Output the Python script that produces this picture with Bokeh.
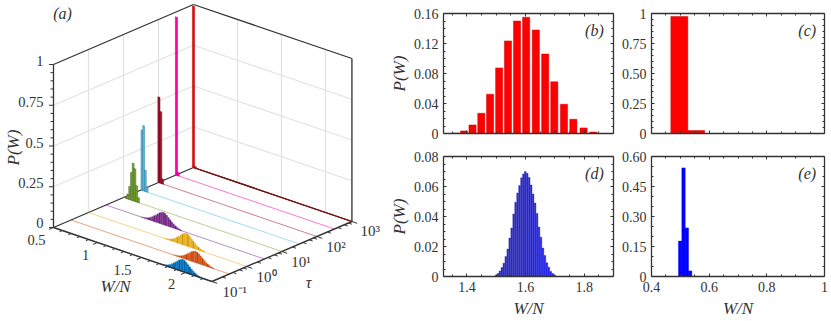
from bokeh.embed import file_html
from bokeh.resources import INLINE
from bokeh.plotting import figure
from bokeh.layouts import row, column
from bokeh.models import LinearAxis, FixedTicker, Range1d
from bokeh.core.properties import value

FONT = "Liberation Serif"
INK = "#333333"

# ---------- panel (a) data: W/N bin centres and P(W) for each tau ----------
tau_exp = [-1, -0.5, 0, 0.5, 1, 1.5, 2, 2.5, 3]
colors = ["#0072BD", "#D95319", "#EDB120", "#7E2F8E", "#77AC30", "#4DBEEE", "#A2142F", "#FF00AA", "#FF0000"]
edges = ["#00406b", "#7a2e0d", "#80600f", "#3f1747", "#3f5c19", "#2a7a9c", "#5a0b1a", "#b00075", "#b00000"]
W_s0 = [1.73, 1.75, 1.77, 1.79, 1.81, 1.83, 1.85, 1.87, 1.89, 1.91, 1.93, 1.95, 1.97,
        1.99, 2.01, 2.03, 2.05, 2.07, 2.09, 2.11, 2.13, 2.15, 2.17]
P_s0 = [.001, .002, .005, .008, .012, .018, .026, .035, .044, .054, .064, .071, .075,
        .072, .064, .054, .043, .033, .024, .017, .011, .007, .004]
W_s1 = [1.675, 1.695, 1.715, 1.735, 1.755, 1.775, 1.795, 1.815, 1.835, 1.855, 1.875, 1.895, 1.915,
        1.935, 1.955, 1.975, 1.995, 2.015, 2.035, 2.055, 2.075, 2.095, 2.115]
P_s1 = [.001, .002, .004, .007, .011, .017, .024, .032, .041, .050, .059, .066, .069,
        .066, .059, .050, .040, .030, .022, .015, .010, .006, .003]
W_s2 = [1.37, 1.39, 1.41, 1.43, 1.45, 1.47, 1.49, 1.51, 1.53, 1.55, 1.57, 1.59, 1.61,
        1.63, 1.65, 1.67, 1.69, 1.71, 1.73, 1.75, 1.77, 1.79, 1.81]
P_s2 = [.001, .002, .005, .008, .012, .018, .026, .035, .045, .055, .065, .072, .076,
        .073, .065, .055, .044, .033, .024, .017, .011, .007, .004]
W_s3 = [.91, .93, .95, .97, .99, 1.01, 1.03, 1.05, 1.07, 1.09, 1.11, 1.13, 1.15,
        1.17, 1.19, 1.21, 1.23, 1.25, 1.27, 1.29, 1.31, 1.33, 1.35]
P_s3 = [.001, .002, .005, .008, .012, .018, .026, .035, .044, .054, .064, .071, .075,
        .072, .064, .054, .043, .033, .024, .017, .011, .007, .004]
W_s4 = [.53, .55, .57, .59, .61, .63, .65, .67]
P_s4 = [.01, .03, .08, .17, .23, .20, .10, .03]
W_s5 = [.51, .53, .55, .57]
P_s5 = [.37, .40, .13, .03]
W_s6 = [.505, .525, .545]
P_s6 = [.525, .44, .03]
W_s7 = [.505, .525]
P_s7 = [.97, .02]
W_s8 = [.50, .52]
P_s8 = [.99, .01]
series_W = [W_s0, W_s1, W_s2, W_s3, W_s4, W_s5, W_s6, W_s7, W_s8]
series_P = [P_s0, P_s1, P_s2, P_s3, P_s4, P_s5, P_s6, P_s7, P_s8]
series_hw = [.01, .01, .01, .01, .01, .01, .012, .012, .012]

z_ticks = [0, .25, .5, .75, 1]
z_labels = ["0", "0.25", "0.5", "0.75", "1"]
z_minor = [.05, .10, .15, .20, .30, .35, .40, .45, .55, .60, .65, .70, .80, .85, .90, .95]
W_ticks = [.5, 1, 1.5, 2]
W_labels = ["0.5", "1", "1.5", "2"]
W_minor = [.6, .7, .8, .9, 1.1, 1.2, 1.3, 1.4, 1.6, 1.7, 1.8, 1.9, 2.1, 2.2]
tau_ticks = [-1, 0, 1, 2, 3]
tau_labels = ["10⁻¹", "10⁰", "10¹", "10²", "10³"]
tau_minor_mult = [.30, .60, .78, .90]
W_MIN, W_MAX = 0.5, 2.3


def pr(w, lt, z=0.0):
    """orthographic projection of (W/N, log10 tau, P) on the page"""
    return (53 + (w - W_MIN) * 88 + (lt + 1) * 35,
            227 + (w - W_MIN) * 30 - (lt + 1) * 15 - z * 163)


def seg(p, a, b, **kw):
    x0, y0 = pr(*a)
    x1, y1 = pr(*b)
    p.line([x0, x1], [y0, y1], **kw)


LW = 386
a = figure(width=LW, height=321, x_range=Range1d(0, LW), y_range=Range1d(321, 0),
           output_backend="svg", toolbar_location=None, min_border=0,
           outline_line_color=None)
a.axis.visible = False
a.grid.visible = False
a.xaxis.visible = False
a.yaxis.visible = False

GRID = dict(line_color="#e2e2e2", line_width=1.2)
for z in z_ticks[1:4]:
    seg(a, (W_MIN, -1, z), (W_MIN, 3, z), **GRID)
    seg(a, (W_MIN, 3, z), (W_MAX, 3, z), **GRID)
for lt in tau_ticks[1:4]:
    seg(a, (W_MIN, lt, 0), (W_MIN, lt, 1), **GRID)
for w in W_ticks[1:]:
    seg(a, (w, 3, 0), (w, 3, 1), **GRID)

seg(a, (W_MIN, -1, 0), (W_MIN, 3, 0), line_color=INK, line_width=1.3)
seg(a, (W_MIN, 3, 0), (W_MAX, 3, 0), line_color=INK, line_width=1.3)

for i in range(len(tau_exp) - 1, -1, -1):
    lt = tau_exp[i]
    seg(a, (W_MIN, lt, 0), (W_MAX, lt, 0), line_color=colors[i], line_width=.9, line_alpha=.6)
    xs, ys = [], []
    for w, v in zip(series_W[i], series_P[i]):
        h = series_hw[i]
        c = [pr(w - h, lt), pr(w - h, lt, v), pr(w + h, lt, v), pr(w + h, lt)]
        xs.append([q[0] for q in c])
        ys.append([q[1] for q in c])
    narrow = len(series_W[i]) <= 10
    a.patches(xs, ys, fill_color=colors[i], line_color=edges[i] if narrow else colors[i],
              line_width=.5 if narrow else .3)
    # thin dark bar edges, on every third bin as they alias in the reference
    if not narrow:
        for w, v in list(zip(series_W[i], series_P[i]))[1::3]:
            x0, y0 = pr(w, lt)
            x1, y1 = pr(w, lt, v)
            a.line([x0, x1], [y0, y1], line_color=edges[i], line_width=.6, line_alpha=.8)

seg(a, (W_MIN, 3, 0), (W_MAX, 3, 0), line_color="#7a1010", line_width=1.3)
seg(a, (W_MIN, -1, 1), (W_MIN, 3, 1), line_color=INK, line_width=1.3)
seg(a, (W_MIN, 3, 1), (W_MAX, 3, 1), line_color=INK, line_width=1.3)
seg(a, (W_MIN, -1, 0), (W_MIN, -1, 1), line_color=INK, line_width=1.3)
seg(a, (W_MAX, 3, 0), (W_MAX, 3, 1), line_color="#555555", line_width=1.6)
seg(a, (W_MIN, -1, 0), (W_MAX, -1, 0), line_color=INK, line_width=1.4)
seg(a, (W_MAX, -1, 0), (W_MAX, 3, 0), line_color=INK, line_width=1.4)

for z, n in [(t, 4.5) for t in z_ticks] + [(t, 3) for t in z_minor]:
    x, y = pr(W_MIN, -1, z)
    a.line([x - n, x], [y, y], line_color=INK, line_width=1)
for w, n in [(t, 1.3) for t in W_ticks] + [(t, .8) for t in W_minor]:
    seg(a, (w, -1, 0), (w, -1 - n * .1, 0), line_color=INK, line_width=1)
tau_minor = [t + m for t in tau_ticks[:-1] for m in tau_minor_mult]
for lt, n in [(t, .06) for t in tau_ticks] + [(t, .04) for t in tau_minor]:
    seg(a, (W_MAX, lt, 0), (W_MAX + n, lt, 0), line_color=INK, line_width=1)

TXT = dict(text_font=value(FONT), text_color=INK, text_baseline="middle")
a.text([43] * 5, [222.7, 182.3, 142.7, 101.7, 60], text=z_labels, text_align="right",
       text_font_size="14.5px", **TXT)
a.text([36, 85, 122, 171], [239, 254, 269, 283], text=W_labels, text_align="center",
       text_font_size="14.5px", **TXT)
a.text([222, 256, 290.7, 325.7, 360], [291, 276.7, 261, 246, 230.7], text=tau_labels,
       text_align="left", text_font_size="15px", **TXT)
a.text([115], [286], text=["W/N"], text_align="center", text_font_size="17px", text_font_style="italic", **TXT)
a.text([308], [282], text=["τ"], text_align="center", text_font_size="16px", text_font_style="italic", **TXT)
a.text([62], [13], text=["(a)"], text_align="center", text_font_size="16px", text_font_style="italic", **TXT)
a.text([13], [147], text=["P(W)"], text_align="center", angle=1.5708, text_font_size="17px",
       text_font_style="italic", **TXT)

# ---------- panels (b)-(e) data ----------
b_W = [1.361, 1.390, 1.419, 1.449, 1.479, 1.510, 1.540, 1.571, 1.602, 1.635, 1.667, 1.698, 1.731, 1.763, 1.798, 1.831]
b_P = [.0005, .0035, .0115, .027, .0525, .0875, .1235, .150, .155, .138, .106, .069, .039, .019, .0075, .002]
c_W = [.4965, .555]
c_P = [.975, .025]
d_W = [1.499, 1.5057, 1.5124, 1.5191, 1.5258, 1.5325, 1.5392, 1.5459, 1.5526, 1.5593, 1.566, 1.5727, 1.5794,
       1.5861, 1.5928, 1.599, 1.6057, 1.6124, 1.6191, 1.6258, 1.6325, 1.6392, 1.6459, 1.6526, 1.6593, 1.666,
       1.6727, 1.6794, 1.6861, 1.6928, 1.6995]
d_P = [.0009, .0020, .0036, .0060, .0089, .0134, .0183, .0256, .0323, .0417, .0495, .0557, .0606, .0658, .0684,
       .0700, .0688, .0660, .0610, .0550, .0490, .0420, .0330, .0262, .0190, .0140, .0092, .0062, .0034, .0020, .0009]
e_W = [.4995, .511, .5225, .534]
e_P = [.177, .543, .243, .028]

bd_xticks = [1.4, 1.6, 1.8]
bd_xminor = [1.35, 1.45, 1.5, 1.55, 1.65, 1.7, 1.75, 1.85]
ce_xticks = [.4, .6, .8, 1]
ce_xminor = [.45, .5, .55, .65, .7, .75, .85, .9, .95]
b_yticks = [0, .04, .08, .12, .16]
c_yticks = [0, .25, .5, .75, 1]
d_yticks = [0, .02, .04, .06, .08]
e_yticks = [0, .15, .30, .45, .60]
c_ylabels = ["0", "0.25", "0.50", "0.75", "1"]
b_ylabels = ["0", "0.04", "0.08", "0.12", "0.16"]
d_ylabels = ["0", "0.02", "0.04", "0.06", "0.08"]
e_ylabels = ["0", "0.15", "0.30", "0.45", "0.60"]
ce_xlabels = ["0.4", "0.6", "0.8", "1"]


def sub_minor(ticks, n):
    out = []
    for t0, t1 in zip(ticks[:-1], ticks[1:]):
        out += [t0 + (t1 - t0) * k / n for k in range(1, n)]
    return out


def panel(W, P, width, color, edge, lw, xr, yr, xticks, xminor, yticks, ylabels, yn, letter, lx,
          w, h, bl, br, bt, bb, xlabels=None, show_x=False, show_ylab=False):
    f = figure(width=w, height=h, x_range=Range1d(*xr), y_range=Range1d(*yr),
               output_backend="svg", toolbar_location=None,
               min_border_left=bl, min_border_right=br, min_border_top=bt, min_border_bottom=bb,
               x_axis_location=None, y_axis_location=None, outline_line_color=None)
    f.grid.visible = False
    f.vbar(x=W, top=P, width=width, fill_color=color, line_color=edge, line_width=lw)
    xt = FixedTicker(ticks=xticks, minor_ticks=xminor)
    yt = FixedTicker(ticks=yticks, minor_ticks=sub_minor(yticks, yn))
    for place, ticker, main in [("below", xt, True), ("above", xt, False), ("left", yt, True), ("right", yt, False)]:
        ax = LinearAxis(ticker=ticker, axis_line_color=INK, axis_line_width=1.3,
                        major_tick_line_color=INK, minor_tick_line_color=INK,
                        major_tick_in=3, major_tick_out=0, minor_tick_in=2, minor_tick_out=0,
                        major_label_standoff=5, major_label_text_font=FONT,
                        major_label_text_font_size="14px", major_label_text_color=INK)
        if place in ("left",):
            ax.major_label_overrides = dict(zip(yticks, ylabels))
            if show_ylab:
                ax.axis_label = "P(W)"
                ax.axis_label_text_font = FONT
                ax.axis_label_text_font_style = "italic"
                ax.axis_label_text_font_size = "17px"
                ax.axis_label_text_color = INK
                ax.axis_label_standoff = 2
        elif place == "below" and show_x:
            if xlabels:
                ax.major_label_overrides = dict(zip(xticks, xlabels))
            ax.axis_label = "W/N"
            ax.axis_label_text_font = FONT
            ax.axis_label_text_font_style = "italic"
            ax.axis_label_text_font_size = "17px"
            ax.axis_label_text_color = INK
            ax.axis_label_standoff = 4
        else:
            ax.major_label_text_font_size = "0px"
            ax.major_label_text_color = None
            ax.major_label_standoff = 0
        f.add_layout(ax, place)
    f.text([lx], [yr[1] * .86], text=[letter], text_align="center", text_baseline="middle",
           text_font=value(FONT), text_font_size="16px", text_font_style="italic", text_color=INK)
    return f


BW = 617 - LW
BL = 439 - LW
b = panel(b_W, b_P, .0245, "#ff0000", "#c00000", .45, (1.32, 1.9), (0, .16), bd_xticks, bd_xminor, b_yticks, b_ylabels, 4,
          "(b)", 1.835, BW, 144, BL, 4, 13, 11, show_ylab=True)
c = panel(c_W, c_P, .059, "#ff0000", "#c00000", .45, (.4, 1), (0, 1), ce_xticks, ce_xminor, c_yticks, c_ylabels, 5,
          "(c)", .94, 214, 144, 34, 7, 13, 11)
d = panel(d_W, d_P, .0058, "#2a2aff", "#00006a", .3, (1.32, 1.9), (0, .08), bd_xticks, bd_xminor, d_yticks, d_ylabels, 4,
          "(d)", 1.835, BW, 177, BL, 4, 12, 45, show_x=True, show_ylab=True)
e = panel(e_W, e_P, .0116, "#0000ff", "#0000ff", .45, (.4, 1), (0, .6), ce_xticks, ce_xminor, e_yticks, e_ylabels, 3,
          "(e)", .94, 214, 177, 34, 7, 12, 45, xlabels=ce_xlabels, show_x=True)

right = column(row(b, c, spacing=0), row(d, e, spacing=0), spacing=0)
root = row(a, right, spacing=0)
open("out.html", "w").write(file_html(root, INLINE))
